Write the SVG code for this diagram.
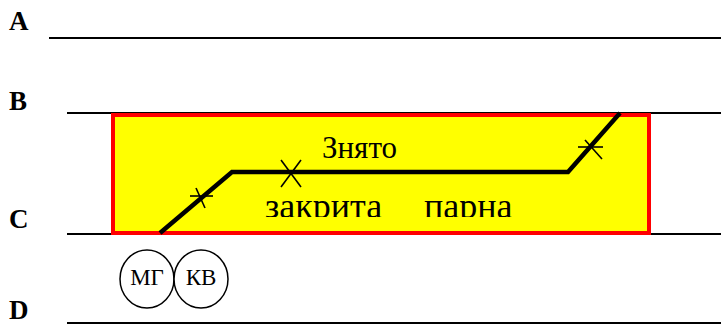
<svg xmlns="http://www.w3.org/2000/svg" width="721" height="325" viewBox="0 0 721 325">
  <style>
    .rail { stroke: #000; stroke-width: 2; fill: none; }
    .lbl { font-family: "Liberation Serif", "Times New Roman", serif; font-weight: bold; font-size: 27px; fill: #000; }
    .txt { font-family: "Liberation Serif", "Times New Roman", serif; fill: #000; }
    .track { stroke: #000; stroke-width: 4.5; fill: none; stroke-linejoin: miter; }
    .tick { stroke: #000; stroke-width: 1.6; fill: none; }
    .sig { fill: #fff; stroke: #000; stroke-width: 1.5; }
  </style>
  <defs>
    <clipPath id="zoneClip">
      <rect x="111" y="113" width="539" height="104"/>
    </clipPath>
  </defs>
  <rect width="721" height="325" fill="#fff"/>

  <!-- track labels -->
  <g id="labels">
    <text class="lbl" x="9" y="30">A</text>
    <text class="lbl" x="9" y="110">B</text>
    <text class="lbl" x="9" y="228">C</text>
    <text class="lbl" x="9" y="319">D</text>
  </g>

  <!-- main rails -->
  <g id="rails">
    <line class="rail" x1="49" y1="38" x2="721" y2="38"/>
    <line class="rail" x1="67" y1="113" x2="721" y2="113"/>
    <line class="rail" x1="67" y1="234" x2="721" y2="234"/>
    <line class="rail" x1="67" y1="323" x2="721" y2="323"/>
  </g>

  <!-- closed zone -->
  <g id="zone">
    <rect x="113" y="115" width="536" height="118" fill="#ffff00" stroke="#ff0000" stroke-width="4"/>
    <text class="txt" x="322" y="158" font-size="31">Знято</text>
    <g clip-path="url(#zoneClip)">
      <text class="txt" x="265" y="218" font-size="36">закрита</text>
      <text class="txt" x="424" y="218" font-size="36">парна</text>
    </g>
  </g>

  <!-- connectors: crossover track with joints -->
  <g id="connectors">
    <polyline class="track" points="160,233 232,172 568,172 620,113"/>
    <line class="tick" x1="190" y1="196" x2="213" y2="196"/>
    <line class="tick" x1="196" y1="188" x2="205" y2="208"/>
    <line class="tick" x1="281" y1="160" x2="301" y2="187"/>
    <line class="tick" x1="301" y1="160" x2="281" y2="187"/>
    <line class="tick" x1="578" y1="147" x2="603" y2="147"/>
    <line class="tick" x1="585" y1="140" x2="602" y2="159"/>
  </g>

  <!-- signals -->
  <g id="signal-mg">
    <ellipse class="sig" cx="147" cy="279" rx="27" ry="29"/>
    <text class="txt" x="147" y="285" font-size="23" text-anchor="middle">МГ</text>
  </g>
  <g id="signal-kv">
    <ellipse class="sig" cx="201" cy="279" rx="27" ry="29"/>
    <text class="txt" x="201" y="285" font-size="23" text-anchor="middle">КВ</text>
  </g>
</svg>
